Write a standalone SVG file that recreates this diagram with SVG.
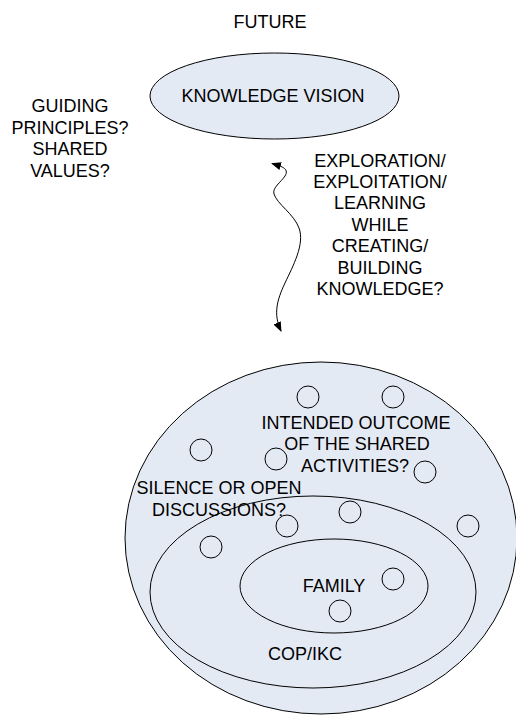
<svg xmlns="http://www.w3.org/2000/svg" width="516" height="715" viewBox="0 0 516 715">
<defs>
<style>
.sh{fill:#E4EAF4;stroke:#000;stroke-width:1}
.c{fill:none;stroke:#000;stroke-width:1}
text{font-family:"Liberation Sans",Arial,sans-serif;font-size:18px;fill:#000;text-anchor:middle}
</style>
<marker id="ah" viewBox="0 0 10 8" refX="9" refY="4" markerWidth="10" markerHeight="8" markerUnits="userSpaceOnUse" orient="auto-start-reverse">
<path d="M0,0 L10,4 L0,8 Z" fill="#000"/>
</marker>
</defs>
<rect width="516" height="715" fill="#fff"/>
<g id="future"><text x="270" y="28">FUTURE</text></g>
<g id="knowledge-vision">
<ellipse class="sh" cx="274.5" cy="96" rx="124.5" ry="43"/>
<text x="273" y="102">KNOWLEDGE VISION</text>
</g>
<g id="guiding">
<text x="70" y="112">GUIDING</text>
<text x="70" y="133.5">PRINCIPLES?</text>
<text x="70" y="155">SHARED</text>
<text x="70" y="176.5">VALUES?</text>
</g>
<g id="exploration">
<text x="380" y="166.5">EXPLORATION/</text>
<text x="380" y="188">EXPLOITATION/</text>
<text x="380" y="209">LEARNING</text>
<text x="380" y="230.5">WHILE</text>
<text x="380" y="252">CREATING/</text>
<text x="380" y="273.5">BUILDING</text>
<text x="380" y="295">KNOWLEDGE?</text>
</g>
<g id="connectors">
<path class="c" d="M272,163.5 C280,166 290,168 285,176 C281,182 272,188 274,194 C277,204 294,214 299,228 C305,244 293,266 285,283 C277,300 273,314 281,331" marker-start="url(#ah)" marker-end="url(#ah)"/>
</g>
<g id="society">
<ellipse class="sh" cx="321" cy="538" rx="196" ry="176"/>
</g>
<g id="cop-ikc">
<ellipse class="sh" cx="313" cy="592" rx="163" ry="96"/>
<text x="305" y="660">COP/IKC</text>
</g>
<g id="family">
<ellipse class="sh" cx="334" cy="586" rx="94" ry="47"/>
<text x="334" y="592">FAMILY</text>
</g>
<g id="members">
<circle class="c" cx="308" cy="397" r="11"/>
<circle class="c" cx="393" cy="397" r="11"/>
<circle class="c" cx="201" cy="450" r="11"/>
<circle class="c" cx="276" cy="459" r="11"/>
<circle class="c" cx="425" cy="472" r="11"/>
<circle class="c" cx="350" cy="512" r="11"/>
<circle class="c" cx="287" cy="526" r="11"/>
<circle class="c" cx="468" cy="526" r="11"/>
<circle class="c" cx="211" cy="547" r="11"/>
<circle class="c" cx="393" cy="579" r="11"/>
<circle class="c" cx="340" cy="611" r="11"/>
</g>
<g id="intended">
<text x="356" y="429">INTENDED OUTCOME</text>
<text x="357" y="450">OF THE SHARED</text>
<text x="355" y="471.5">ACTIVITIES?</text>
</g>
<g id="silence">
<text x="219" y="494">SILENCE OR OPEN</text>
<text x="219" y="515.5">DISCUSSIONS?</text>
</g>
</svg>
